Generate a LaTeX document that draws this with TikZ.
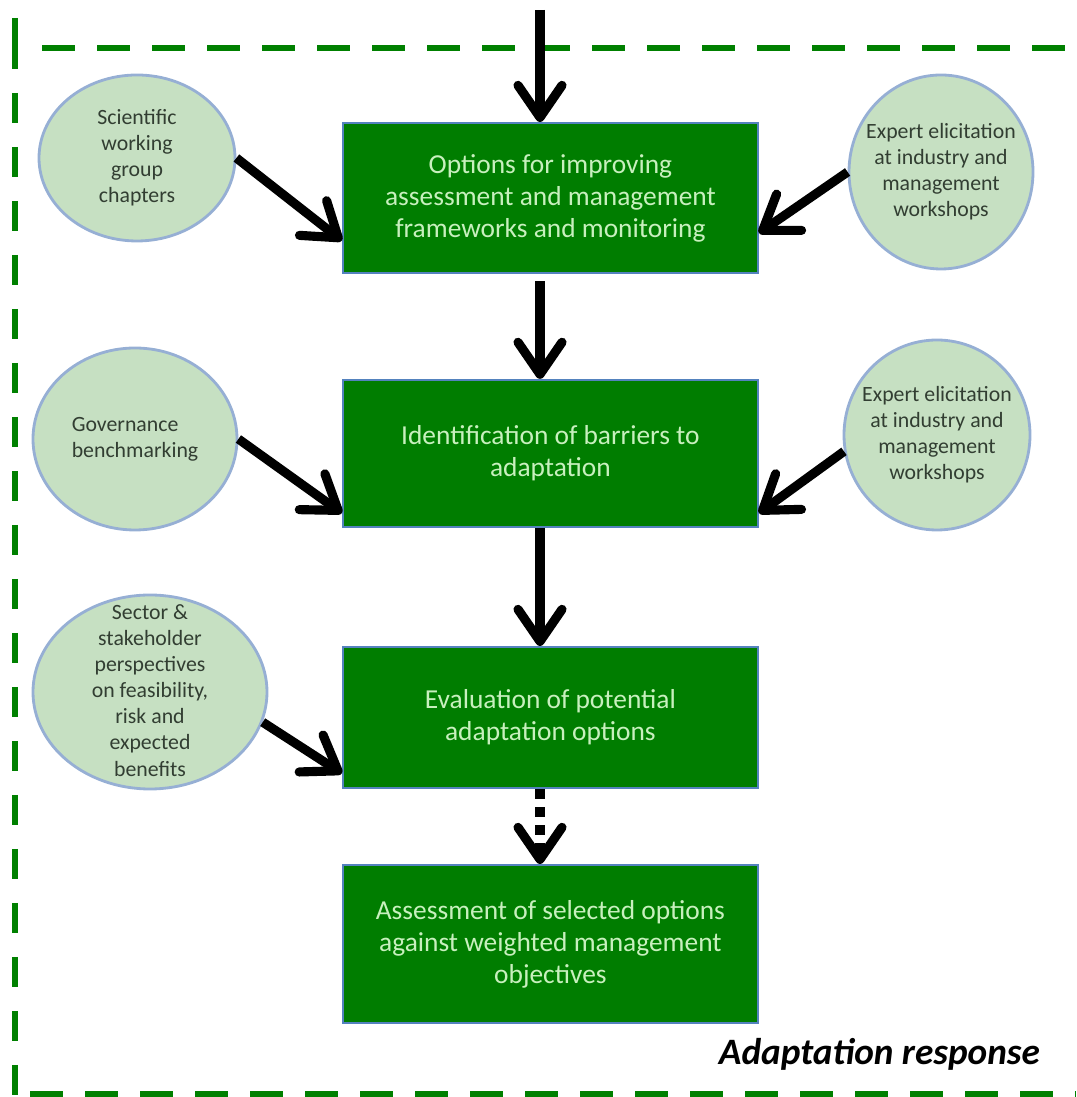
\documentclass[tikz,border=0pt]{standalone}
\usepackage{fontspec}
\setmainfont{Carlito}
\usetikzlibrary{positioning,arrows.meta,shapes.geometric,calc}

\definecolor{framegreen}{RGB}{0,128,0}
\definecolor{boxgreen}{RGB}{0,125,0}
\definecolor{boxedge}{RGB}{84,130,190}
\definecolor{boxtext}{RGB}{200,240,190}
\definecolor{srcfill}{RGB}{198,224,194}
\definecolor{srcedge}{RGB}{150,175,212}
\definecolor{srctext}{RGB}{50,62,50}

% text of a source ellipse, kept out of the shape size
\newcommand{\srclines}[2][c]{\smash{\raisebox{-0.25em}{\makebox[0pt]{\begin{tabular}{@{}#1@{}}#2\end{tabular}}}}}

\begin{document}
\begin{tikzpicture}[
      >={Straight Barb[length=8mm,width=11mm,round]},
      stage/.style={draw=boxedge,line width=1.5pt,fill=boxgreen,text=boxtext,minimum width=10.375cm,inner sep=0pt,align=center,font=\fontsize{19.5}{22.7}\selectfont},
      src/.style={draw=srcedge,line width=2pt,ellipse,fill=srcfill,text=srctext,inner sep=0pt,font=\fontsize{15.5}{18.6}\selectfont},
      flow/.style={draw=black,line width=6.5pt,->},
      frame/.style={draw=framegreen,line width=4.3pt}
    ]
    \useasboundingbox (0,0) rectangle (26.9,27.425);
    % dashed frame
    \draw[frame,dash pattern=on 8.25mm off 5.5mm] (1.05,26.225) -- (26.9,26.225);
    \draw[frame] (0.375,26.975) -- (0.375,25.7);
    \draw[frame,dash pattern=on 7.5mm off 6mm] (0.375,25.1) -- (0.375,0);
    \draw[frame,dash pattern=on 8.25mm off 5.5mm] (0.75,0.075) -- (26.9,0.075);
    % stages
    \node[stage,minimum height=3.75cm] (b1) at (13.76,22.475) {Options for improving\\assessment and management\\frameworks and monitoring};
    \node[stage,minimum height=3.675cm] (b2) at (13.76,16.09) {Identification of barriers to\\adaptation};
    \node[stage,minimum height=3.525cm] (b3) at (13.76,9.4875) {Evaluation of potential\\adaptation options};
    \node[stage,minimum height=3.95cm] (b4) at (13.76,3.825) {Assessment of selected options\\against weighted management\\objectives};
    % sources
    \node[src,minimum width=4.9cm,minimum height=4.15cm] (sc) at (3.425,23.475) {\srclines{Scientific\\working\\group\\chapters}};
    \node[src,minimum width=4.6cm,minimum height=4.85cm] (ex1) at (23.525,23.125) {\srclines{Expert elicitation\\at industry and\\management\\workshops}};
    \node[src,minimum width=5.1cm,minimum height=4.55cm] (gv) at (3.375,16.45) {\srclines[l]{Governance\\benchmarking}};
    \node[src,minimum width=4.65cm,minimum height=4.75cm] (ex2) at (23.425,16.55) {\srclines{Expert elicitation\\at industry and\\management\\workshops}};
    \node[src,minimum width=5.85cm,minimum height=4.85cm] (st) at (3.75,10.125) {\srclines{Sector \&\\stakeholder\\perspectives\\on feasibility,\\risk and\\expected\\benefits}};
    % main flow
    \coordinate (top) at (13.5,27.175);
    \draw[flow] (top) -- (top |- b1.north);
    \draw[flow,shorten <=1.75mm] (b1.south -| top) -- (b2.north -| top);
    \draw[flow] (b2.south -| top) -- (b3.north -| top);
    \draw[flow,dash pattern=on 2.5mm off 2mm] (b3.south -| top) -- (b4.north -| top);
    % inputs
    \draw[flow] (sc.east) -- ($(b1.south west)!0.22!(b1.north west)$);
    \draw[flow] (ex1.west) -- ($(b1.south east)!0.27!(b1.north east)$);
    \draw[flow] (gv.east) -- ($(b2.south west)!0.1!(b2.north west)$);
    \draw[flow] (ex2.190) -- ($(b2.south east)!0.1!(b2.north east)$);
    \draw[flow] (st.-15) -- ($(b3.south west)!0.11!(b3.north west)$);
    % caption
    \node[anchor=base east,font=\fontsize{26.5}{30}\selectfont\bfseries\itshape] (cap) at (26.125,0.8) {Adaptation response};
\end{tikzpicture}
\end{document}
